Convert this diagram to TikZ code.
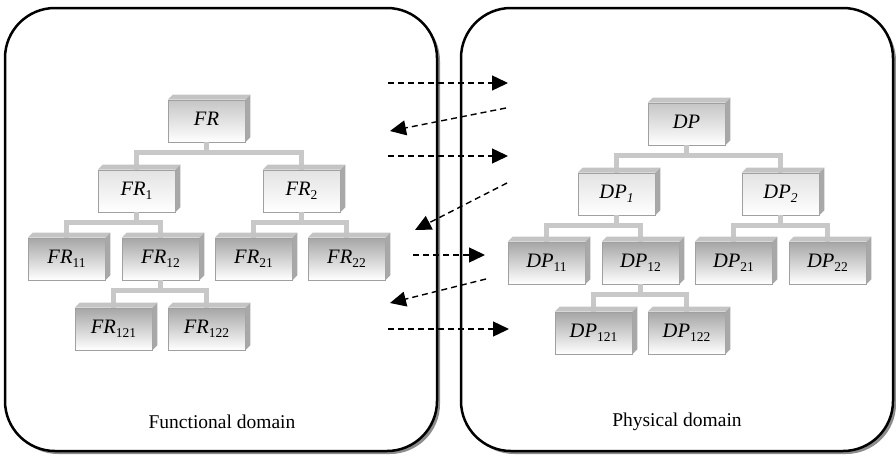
\documentclass[tikz,border=0pt]{standalone}
\usepackage{fontspec}
\setmainfont{Liberation Serif}
\usetikzlibrary{arrows.meta,calc}
\definecolor{conncol}{HTML}{C8C8C8}
\definecolor{shadowcol}{HTML}{8C8C8C}
\definecolor{topcol}{HTML}{C4C4C4}
\definecolor{sidecol}{HTML}{A8A8A8}
\definecolor{edgecol}{HTML}{A0A0A0}
\newcommand\lab[2]{\textit{#1}\raisebox{-0.2em}{\fontsize{13.5}{13.5}\selectfont #2}}
\tikzset{
  frame/.style={draw=black, line width=2.5pt, fill=white, rounded corners=50pt},
  frameshadow/.style={fill=shadowcol, rounded corners=50pt},
  cube/.style={minimum width=77pt, minimum height=42pt, inner sep=0pt, draw=edgecol, line width=0.6pt, font=\fontsize{20.5}{20.5}\selectfont},
  cubeA/.style={cube, top color=gray!45, bottom color=white},
  cubeB/.style={cube, top color=gray!22, bottom color=white},
  cubeC/.style={cube, top color=gray!70, bottom color=white},
  conn/.style={draw=conncol, line width=5pt},
  flow/.style={draw=black, line width=1.4pt, dash pattern=on 6pt off 4pt, -{Triangle[length=16pt,width=15pt]}},
  topface/.style={fill=topcol},
  sideface/.style={fill=sidecol},
  domainlabel/.style={font=\fontsize{19.5}{19.5}\selectfont}
}
\begin{document}
\begin{tikzpicture}[x=1pt,y=-1pt]
\useasboundingbox (0,0) rectangle (896,455);
% outer frames
\fill[frameshadow] (8,11) rectangle (440,454);
\draw[frame] (5,8) rectangle (437,451);
\fill[frameshadow] (464,11) rectangle (896,454);
\draw[frame] (461,8) rectangle (893,451);

% functional tree
\node[cubeA] (fr) at (206.5,121) {\lab{FR}{}};
\node[cubeB] (fr1) at (136.5,191) {\lab{FR}{1}};
\node[cubeB] (fr2) at (301.5,191) {\lab{FR}{2}};
\node[cubeC] (fr11) at (66.5,259) {\lab{FR}{11}};
\node[cubeC] (fr12) at (160.5,259) {\lab{FR}{12}};
\node[cubeC] (fr21) at (253.5,259) {\lab{FR}{21}};
\node[cubeC] (fr22) at (346.5,259) {\lab{FR}{22}};
\node[cubeC] (fr121) at (113.5,329) {\lab{FR}{121}};
\node[cubeC] (fr122) at (206.5,329) {\lab{FR}{122}};

% physical tree
\node[cubeA] (dp) at (686.5,124) {\lab{DP}{}};
\node[cubeB] (dp1) at (616.5,194) {\lab{DP}{\textit{1}}};
\node[cubeB] (dp2) at (780.5,194) {\lab{DP}{\textit{2}}};
\node[cubeC] (dp11) at (546.5,263) {\lab{DP}{11}};
\node[cubeC] (dp12) at (640.5,263) {\lab{DP}{12}};
\node[cubeC] (dp21) at (733.5,263) {\lab{DP}{21}};
\node[cubeC] (dp22) at (827.5,263) {\lab{DP}{22}};
\node[cubeC] (dp121) at (593.5,333) {\lab{DP}{121}};
\node[cubeC] (dp122) at (686.5,333) {\lab{DP}{122}};

% tree connectors
\foreach \p/\a/\b in {fr/fr1/fr2, fr1/fr11/fr12, fr2/fr21/fr22, fr12/fr121/fr122,
                      dp/dp1/dp2, dp1/dp11/dp12, dp2/dp21/dp22, dp12/dp121/dp122} {
  \draw[conn] (\p.south) -- ++(0,10) -| (\a.north);
  \draw[conn] (\p.south) -- ++(0,10) -| (\b.north);
}

% 3D faces
\foreach \n in {fr,fr1,fr2,fr11,fr12,fr21,fr22,fr121,fr122,dp,dp1,dp2,dp11,dp12,dp21,dp22,dp121,dp122} {
  \fill[topface] (\n.north west) -- ++(5,-5) -- ($(\n.north east)+(5,-5)$) -- (\n.north east) -- cycle;
  \fill[sideface] (\n.north east) -- ++(5,-5) -- ($(\n.south east)+(5,-5)$) -- (\n.south east) -- cycle;
}

% mapping arrows
\coordinate (a1s) at (388,83);  \coordinate (a1e) at (508,83);
\coordinate (a2s) at (506,108); \coordinate (a2e) at (390,131);
\coordinate (a3s) at (388,156); \coordinate (a3e) at (508,156);
\coordinate (a4s) at (507,183); \coordinate (a4e) at (415,230);
\coordinate (a5s) at (413,255); \coordinate (a5e) at (485,255);
\coordinate (a6s) at (486,279); \coordinate (a6e) at (390,303);
\coordinate (a7s) at (388,329); \coordinate (a7e) at (509,329);
\foreach \i in {1,...,7} { \draw[flow] (a\i s) -- (a\i e); }

% domain labels
\node[domainlabel] (fd) at (222,422) {Functional domain};
\node[domainlabel] (pd) at (677,422) {Physical domain};
\end{tikzpicture}
\end{document}
